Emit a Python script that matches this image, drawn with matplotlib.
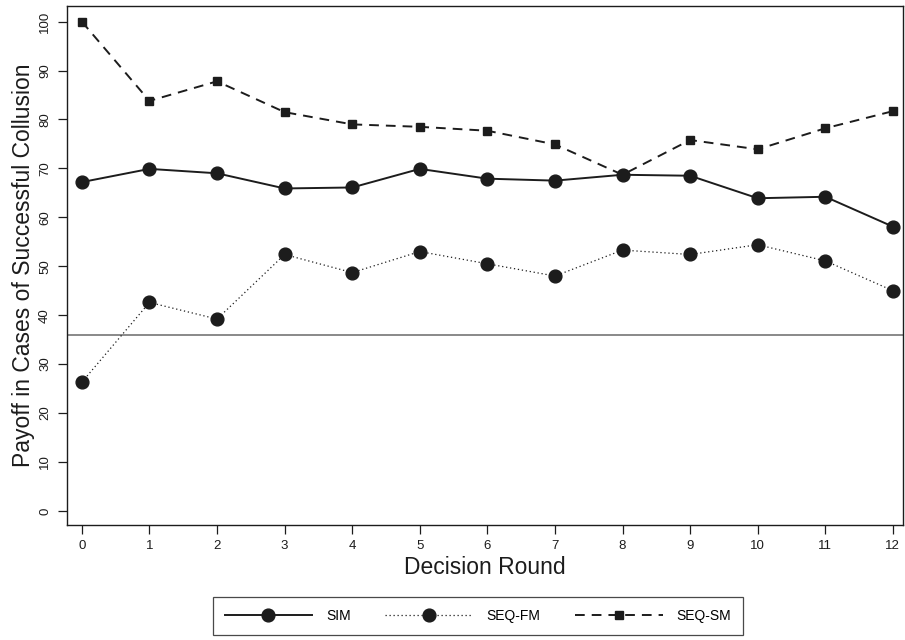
import numpy as np
import matplotlib
matplotlib.use("Agg")
import matplotlib.pyplot as plt

# ------------------------------------------------------------------------
# Data
# ------------------------------------------------------------------------
rounds = list(range(13))
sim = [67.2, 69.9, 69.0, 65.9, 66.1, 69.9, 67.9, 67.5, 68.7, 68.5, 63.9, 64.2, 58.1]
seq_fm = [26.3, 42.6, 39.2, 52.4, 48.7, 53.0, 50.5, 48.0, 53.3, 52.4, 54.4, 51.1, 45.0]
seq_sm = [100.0, 83.8, 87.8, 81.5, 79.0, 78.5, 77.7, 74.9, 68.7, 75.8, 73.9, 78.2, 81.7]
ref_level = 36
yticks = list(range(0, 101, 10))

# ------------------------------------------------------------------------
# Style
# ------------------------------------------------------------------------
plt.rcParams["font.family"] = ["Liberation Sans", "DejaVu Sans"]
ink = "#1c1c1c"

fig = plt.figure(figsize=(9.05, 6.4), dpi=100)
ax = fig.add_axes([67 / 905, 1 - 525 / 640, (903 - 67) / 905, (525 - 6) / 640])

ax.axhline(ref_level, color="#808080", lw=1.3, zorder=1)

ax.plot(rounds, sim, ls="-", lw=1.4, color=ink, marker="o", ms=9.2,
        label="SIM", zorder=3)
ax.plot(rounds, seq_fm, ls=(0, (1, 2.2)), lw=0.9, color=ink, marker="o", ms=9.2,
        label="SEQ-FM", zorder=3)
ax.plot(rounds, seq_sm, ls=(0, (5, 3.6)), lw=1.4, color=ink, marker="s", ms=6,
        label="SEQ-SM", zorder=3)

ax.set_xlim(-0.22, 12.15)
ax.set_ylim(-2.9, 103.2)
ax.set_xticks(rounds)
ax.set_yticks(yticks)
ax.set_yticklabels([str(v) for v in yticks], rotation=90, va="center")
ax.tick_params(axis="both", direction="out", length=6.5, width=0.9,
               labelsize=9.5, colors=ink)
ax.tick_params(axis="x", pad=4)
ax.tick_params(axis="y", pad=5)
for s in ax.spines.values():
    s.set_color(ink)
    s.set_linewidth(1.0)

ax.set_xlabel("Decision Round", fontsize=16.5, color=ink, labelpad=3)
ax.set_ylabel("Payoff in Cases of Successful Collusion", fontsize=16.5,
              color=ink, labelpad=3)

leg = fig.legend(loc="center", bbox_to_anchor=(478 / 905, 1 - 616 / 640),
                 ncol=3, fontsize=10, frameon=True, fancybox=False,
                 edgecolor=ink, handlelength=6.3, columnspacing=2.5,
                 handletextpad=1.0, borderpad=0.85)
leg.get_frame().set_linewidth(0.9)

fig.savefig("out.png", dpi=100)
